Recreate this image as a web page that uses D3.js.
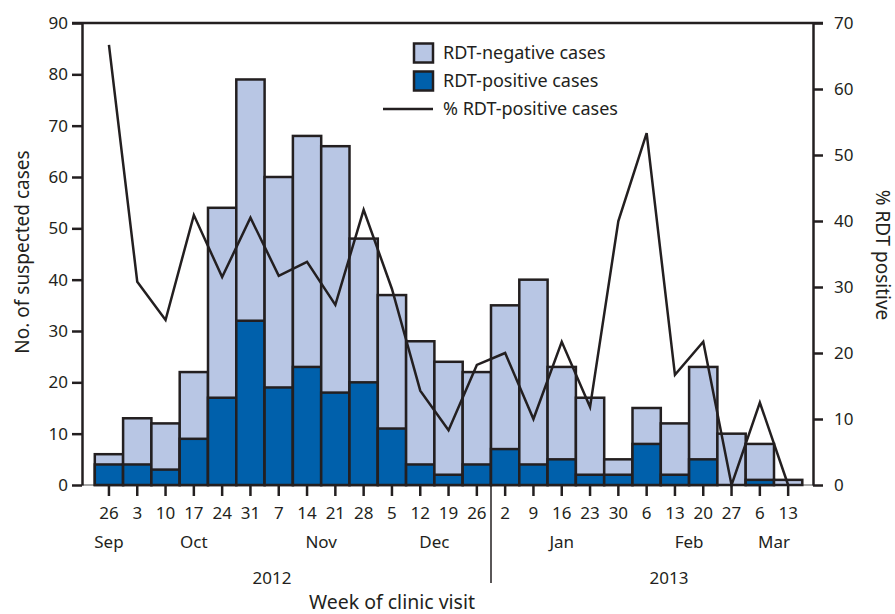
<!DOCTYPE html>
<html>
<head>
<meta charset="utf-8">
<script src="https://cdn.jsdelivr.net/npm/d3@7"></script>
<style>
  body { margin: 0; background: #fff; }
  svg { display: block; font-family: 'Noto Sans', sans-serif; }
</style>
</head>
<body>
<svg id="chart" width="895" height="614"></svg>
<script>
// weeks of clinic visit (week start)
const weeks = ['Sep 26', 'Oct 3', 'Oct 10', 'Oct 17', 'Oct 24', 'Oct 31',
  'Nov 7', 'Nov 14', 'Nov 21', 'Nov 28', 'Dec 5', 'Dec 12', 'Dec 19', 'Dec 26',
  'Jan 2', 'Jan 9', 'Jan 16', 'Jan 23', 'Jan 30', 'Feb 6', 'Feb 13', 'Feb 20',
  'Feb 27', 'Mar 6', 'Mar 13'];
const years = ['2012', '2013'];
const totalCases = [6, 13, 12, 22, 54, 79, 60, 68, 66, 48, 37, 28, 24, 22,
  35, 40, 23, 17, 5, 15, 12, 23, 10, 8, 1];
const positiveCases = [4, 4, 3, 9, 17, 32, 19, 23, 18, 20, 11, 4, 2, 4,
  7, 4, 5, 2, 2, 8, 2, 5, 0, 1, 0];
const pctPositive = [66.7, 30.8, 25, 40.9, 31.5, 40.5, 31.7, 33.8, 27.3, 41.7, 29.7, 14.3, 8.3, 18.2,
  20, 10, 21.7, 11.8, 40, 53.3, 16.7, 21.7, 0, 12.5, 0];
const leftTicks = d3.range(0, 91, 10);
const rightTicks = d3.range(0, 71, 10);

const INK = '#231f20';
const NEG = '#b8c6e4';
const POS = '#0060ab';

const svg = d3.select('#chart');
const L = 82, R = 813, T = 23, B = 485;

const x = d3.scaleBand().domain(weeks).range([94.8, 802.3]).paddingInner(0).paddingOuter(0);
const y = d3.scaleLinear().domain([0, 90]).range([B, T]);
const yR = d3.scaleLinear().domain([0, 70]).range([B, T]);
const cx = w => x(w) + x.bandwidth() / 2;

// baseline
svg.append('line')
  .attr('x1', L).attr('x2', R).attr('y1', B).attr('y2', B)
  .attr('stroke', '#8a8a8a').attr('stroke-width', 1.5);

// bars
const bars = svg.append('g');
weeks.forEach((w, i) => {
  bars.append('rect')
    .attr('x', x(w)).attr('width', x.bandwidth())
    .attr('y', y(totalCases[i])).attr('height', y(0) - y(totalCases[i]))
    .attr('fill', NEG).attr('stroke', INK).attr('stroke-width', 2.5);
  if (positiveCases[i] > 0) {
    bars.append('rect')
      .attr('x', x(w)).attr('width', x.bandwidth())
      .attr('y', y(positiveCases[i])).attr('height', y(0) - y(positiveCases[i]))
      .attr('fill', POS).attr('stroke', INK).attr('stroke-width', 2.5);
  }
});

// % positive line
svg.append('path')
  .datum(pctPositive)
  .attr('fill', 'none').attr('stroke', INK).attr('stroke-width', 2.5)
  .attr('stroke-linejoin', 'miter')
  .attr('d', d3.line().x((d, i) => cx(weeks[i])).y(d => yR(d)));

// top border
svg.append('line')
  .attr('x1', L - 10).attr('x2', R + 10).attr('y1', T).attr('y2', T)
  .attr('stroke', INK).attr('stroke-width', 2.5);

function styleAxis(g) {
  g.select('.domain').attr('stroke', INK).attr('stroke-width', 2.5);
  g.selectAll('.tick line').attr('stroke', INK).attr('stroke-width', 2.5);
  g.selectAll('.tick text').attr('fill', INK).attr('font-size', 17)
    .attr('font-family', "'Noto Sans', sans-serif");
}

svg.append('g').attr('transform', `translate(${L},0)`)
  .call(d3.axisLeft(y).tickValues(leftTicks).tickSize(10).tickSizeOuter(0).tickPadding(4))
  .call(styleAxis);

svg.append('g').attr('transform', `translate(${R},0)`)
  .call(d3.axisRight(yR).tickValues(rightTicks).tickSize(10).tickSizeOuter(0).tickPadding(11))
  .call(styleAxis);

const xAxis = svg.append('g').attr('transform', `translate(0,${B + 1})`)
  .call(d3.axisBottom(x).tickSize(10).tickPadding(11).tickFormat(d => d.split(' ')[1]))
  .call(styleAxis);
xAxis.select('.domain').remove();

// month labels centered under their weeks
const months = Array.from(d3.group(weeks, w => w.split(' ')[0]), ([m, ws]) => ({ m, at: d3.mean(ws, cx) }));
svg.append('g').selectAll('text').data(months).join('text')
  .attr('x', d => d.at).attr('y', 548)
  .attr('text-anchor', 'middle').attr('font-size', 17).attr('fill', INK)
  .text(d => d.m);

// year labels
const yearAnchor = { '2012': x('Nov 7') + x.bandwidth() * 0.26, '2013': x('Feb 13') + x.bandwidth() * 0.29 };
svg.append('g').selectAll('text').data(years).join('text')
  .attr('x', d => yearAnchor[d]).attr('y', 584)
  .attr('text-anchor', 'middle').attr('font-size', 17).attr('fill', INK)
  .text(d => d);

// year divider
svg.append('line')
  .attr('x1', x('Jan 2')).attr('x2', x('Jan 2')).attr('y1', B).attr('y2', 583)
  .attr('stroke', INK).attr('stroke-width', 1.5);

svg.append('text')
  .attr('x', 392).attr('y', 609)
  .attr('text-anchor', 'middle').attr('font-size', 19.5).attr('fill', INK)
  .text('Week of clinic visit');

svg.append('text')
  .attr('transform', 'translate(29,252) rotate(-90)')
  .attr('text-anchor', 'middle').attr('font-size', 19).attr('fill', INK)
  .text('No. of suspected cases');

svg.append('text')
  .attr('transform', 'translate(876,255) rotate(90)')
  .attr('text-anchor', 'middle').attr('font-size', 19).attr('fill', INK)
  .text('% RDT positive');

// legend
const legend = svg.append('g').attr('font-size', 18).attr('fill', INK);
const legendItems = [
  { label: 'RDT-negative cases', type: 'box', color: NEG },
  { label: 'RDT-positive cases', type: 'box', color: POS },
  { label: '% RDT-positive cases', type: 'line' }
];
legendItems.forEach((d, i) => {
  const cy = 53 + i * 28;
  if (d.type === 'box') {
    legend.append('rect')
      .attr('x', 414).attr('y', cy - 9.5).attr('width', 19).attr('height', 19)
      .attr('fill', d.color).attr('stroke', INK).attr('stroke-width', 2.5);
  } else {
    legend.append('line')
      .attr('x1', 383).attr('x2', 433).attr('y1', cy).attr('y2', cy)
      .attr('stroke', INK).attr('stroke-width', 2.5);
  }
  legend.append('text')
    .attr('x', 443).attr('y', cy).attr('dy', '0.35em')
    .text(d.label);
});
</script>
</body>
</html>
